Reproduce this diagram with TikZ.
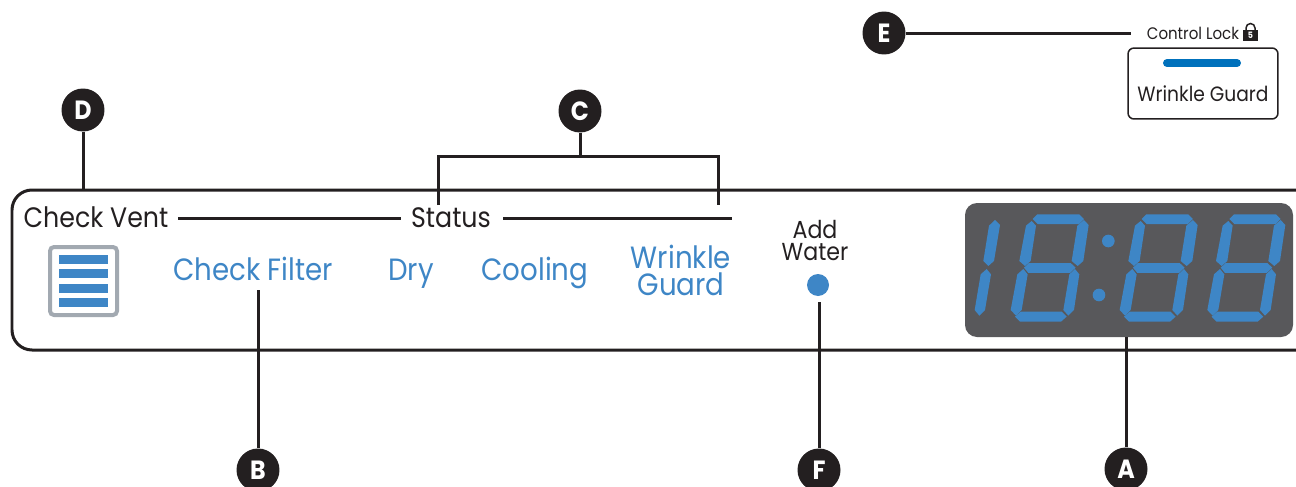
\documentclass[tikz,border=0pt]{standalone}
\usepackage{fontspec}
\setmainfont{Poppins}[FakeStretch=0.9]
\usetikzlibrary{positioning}
\definecolor{panelblue}{HTML}{3E86C6}
\definecolor{lockblue}{HTML}{0071BC}
\definecolor{inkblack}{HTML}{231F20}
\definecolor{screengray}{HTML}{58585B}
\definecolor{ventgray}{HTML}{A2A9B1}
\tikzset{
  badge/.style={circle, fill=inkblack, text=white, minimum size=0.86cm, inner sep=0pt, font=\fontsize{15}{15}\selectfont\bfseries},
  leader/.style={draw=inkblack, line width=0.06cm},
  plain/.style={text=inkblack, inner sep=0pt, anchor=base, font=\fontsize{16}{16}\selectfont},
  lit/.style={text=panelblue, inner sep=0pt, anchor=base, align=center, font=\fontsize{17.5}{15.3}\selectfont},
}
\begin{document}
\begin{tikzpicture}[x=0.02cm, y=-0.02cm]
    \useasboundingbox (0,0) rectangle (1296,487);
    % panel and screen
    \draw[inkblack, line width=0.06cm, rounded corners=0.4cm] (1320,190) -- (12,190) -- (12,350) -- (1320,350);
    \coordinate (paneltop) at (83,190);
    \fill[screengray, rounded corners=0.24cm] (965,203) rectangle (1293,337);
    \coordinate (screen) at (1126,337);
    \begin{scope}[shift={(960,195)}, x=0.00667cm, y=-0.00667cm]
      \foreach \dx in {0,327,590} {
        \begin{scope}[shift={(\dx,0)}]
          \fill[panelblue] (218,72) -- (232,58) -- (358,58) -- (372,72) -- (357,87) -- (233,87) -- cycle;
          \fill[panelblue] (198,92) -- (215,78) -- (228,92) -- (212,198) -- (195,213) -- (178,198) -- cycle;
          \fill[panelblue] (372,75) -- (386,90) -- (370,198) -- (353,213) -- (335,198) -- (352,92) -- cycle;
          \fill[panelblue] (192,218) -- (207,204) -- (332,204) -- (347,218) -- (330,234) -- (205,234) -- cycle;
          \fill[panelblue] (172,238) -- (190,222) -- (203,238) -- (185,345) -- (168,362) -- (152,345) -- cycle;
          \fill[panelblue] (345,222) -- (358,238) -- (342,345) -- (325,362) -- (310,345) -- (328,238) -- cycle;
          \fill[panelblue] (165,365) -- (182,350) -- (305,350) -- (320,365) -- (303,380) -- (180,380) -- cycle;
        \end{scope}
      }
      \fill[panelblue] (105,75) -- (120,90) -- (102,198) -- (85,213) -- (70,198) -- (87,92) -- cycle;
      \fill[panelblue] (80,222) -- (93,238) -- (75,345) -- (58,362) -- (44,345) -- (62,238) -- cycle;
      \fill[panelblue] (445,138) circle (19);
      \fill[panelblue] (417,300) circle (19);
    \end{scope}
    % vent icon
    \draw[ventgray, line width=0.08cm, rounded corners=0.08cm] (50,247) rectangle (117,315);
    \foreach \y in {255,269,284,298}
      \fill[panelblue] (59,\y) rectangle (108,\y+8.5);
    % labels
    \node[plain] (vent) at (96,227) {Check Vent};
    \node[plain] (status) at (451,227) {Status};
    \node[lit] (filter) at (253,280) {Check Filter};
    \node[lit] (dry) at (411,280) {Dry};
    \node[lit] (cooling) at (535,280) {Cooling};
    \node[lit] (wrinkle) at (681,295) {Wrinkle\\Guard};
    \node[plain, align=center, font=\fontsize{14}{12.5}\selectfont] (water) at (815,260) {Add\\Water};
    \node[circle, fill=panelblue, minimum size=0.44cm, inner sep=0pt] (lamp) at (818,285) {};
    % control lock
    \node[plain, font=\fontsize{9.5}{10}\selectfont] (lock) at (1193,39) {Control Lock};
    \fill[inkblack] (1243,30) rectangle (1258,41);
    \draw[inkblack, line width=0.03cm] (1246,30) -- (1246,28) arc (180:360:4.5) -- (1255,30);
    \node[text=white, inner sep=0pt, font=\fontsize{5}{5}\selectfont\bfseries] (five) at (1250.5,35.5) {5};
    \node[draw=inkblack, line width=0.03cm, rounded corners=0.12cm, minimum width=3.0cm, minimum height=1.42cm] (guard) at (1203,83.5) {};
    \draw[lockblue, line width=0.16cm, line cap=round] (1167,63) -- (1237,63);
    \node[plain, font=\fontsize{11.8}{12}\selectfont] (guardtext) at (1203,101) {Wrinkle Guard};
    % badges
    \node[badge] (A) at (1126,469) {A};
    \node[badge] (B) at (258,470) {B};
    \node[badge] (C) at (580,111) {C};
    \node[badge] (D) at (83,110) {D};
    \node[badge] (E) at (884,33) {E};
    \node[badge] (F) at (819,470) {F};
    \coordinate (Eend) at (1131,33);
    \coordinate (Cleft) at (438,205);
    \coordinate (Cright) at (718,205);
    \coordinate (Cbar) at (580,156);
    \coordinate (Ftop) at (819,302);
    \coordinate (Btop) at (258,290);
    \coordinate (ruleA) at (178,218);
    \coordinate (ruleB) at (401,218);
    \coordinate (ruleC) at (503,218);
    \coordinate (ruleD) at (732,218);
    % connectors
    \draw[leader] (A) -- (screen);
    \draw[leader] (B) -- (Btop);
    \draw[leader] (C) -- (Cbar);
    \draw[leader] (Cleft) -- (Cleft |- Cbar) -- (Cright |- Cbar) -- (Cright);
    \draw[leader] (D) -- (paneltop);
    \draw[leader] (E) -- (Eend);
    \draw[leader] (F) -- (Ftop);
    \draw[leader] (ruleA) -- (ruleB);
    \draw[leader] (ruleC) -- (ruleD);
  \end{tikzpicture}
\end{document}
